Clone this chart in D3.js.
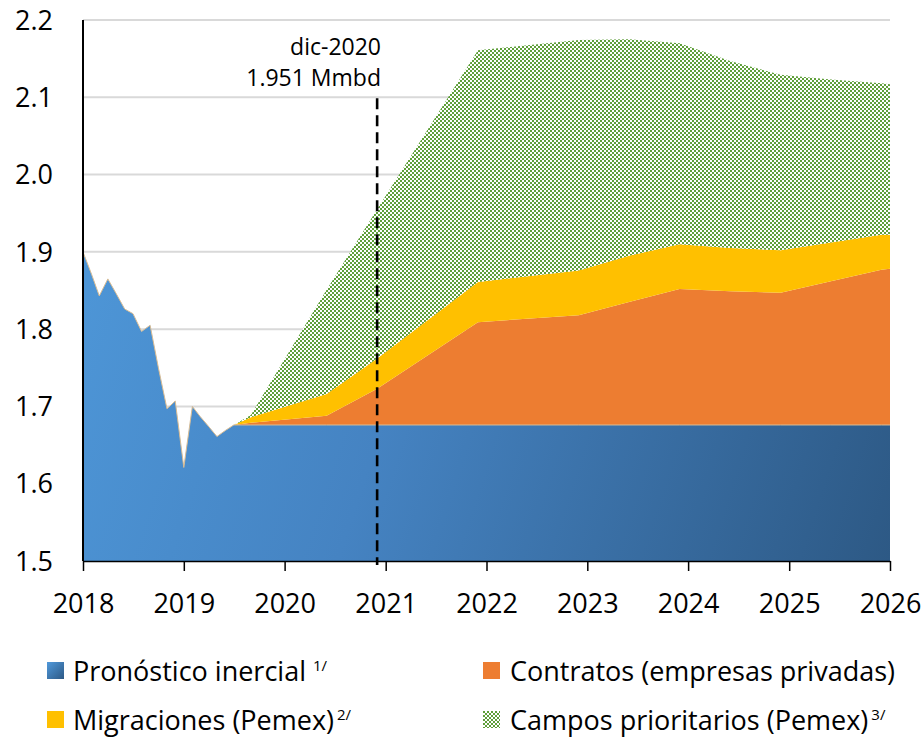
<!DOCTYPE html>
<html>
<head>
<meta charset="utf-8">
<script src="https://cdn.jsdelivr.net/npm/d3@7"></script>
<style>
  body { margin: 0; background: #fff; }
  svg text { font-family: "Open Sans", sans-serif; fill: #000; }
</style>
</head>
<body>
<div class="chart"></div>
<script>
var width = 923, height = 738;

// pronóstico inercial, mensual ene-2018 a jun-2019
var early_months = ["2018-01","2018-02","2018-03","2018-04","2018-05","2018-06","2018-07","2018-08","2018-09",
  "2018-10","2018-11","2018-12","2019-01","2019-02","2019-03","2019-04","2019-05","2019-06"];
var early_inercial = [1.900, 1.871, 1.843, 1.865, 1.846, 1.826, 1.820, 1.797, 1.805,
  1.750, 1.697, 1.707, 1.621, 1.700, 1.687, 1.674, 1.661, 1.669];

// componentes apilados desde jul-2019
var months = ["2019-07","2019-09","2020-06","2020-12","2021-12","2022-12","2023-06","2023-12",
  "2024-06","2024-12","2025-06","2025-12","2026-01"];
var inercial    = [1.676, 1.676, 1.676, 1.676, 1.676, 1.676, 1.676, 1.676, 1.676, 1.676, 1.676, 1.676, 1.676];
var contratos   = [0.000, 0.003, 0.012, 0.047, 0.133, 0.142, 0.159, 0.176, 0.173, 0.171, 0.186, 0.201, 0.202];
var migraciones = [0.000, 0.007, 0.028, 0.039, 0.052, 0.058, 0.060, 0.058, 0.056, 0.055, 0.050, 0.045, 0.044];
var prioritarios= [0.000, 0.003, 0.135, 0.193, 0.300, 0.298, 0.280, 0.260, 0.242, 0.227, 0.211, 0.196, 0.195];

var y_ticks = [1.5, 1.6, 1.7, 1.8, 1.9, 2.0, 2.1, 2.2];
var x_ticks = ["2018","2019","2020","2021","2022","2023","2024","2025","2026"];
var marker_month = "2020-12";
var marker_text = ["dic-2020", "1.951 Mmbd"];

var legend_items = [
  {key: "inercial", label: "Pronóstico inercial", sup: "1/", gap: " "},
  {key: "contratos", label: "Contratos (empresas privadas)", sup: "", gap: ""},
  {key: "migraciones", label: "Migraciones (Pemex)", sup: "2/", gap: ""},
  {key: "prioritarios", label: "Campos prioritarios (Pemex)", sup: "3/", gap: ""}
];

var parseMonth = d3.timeParse("%Y-%m"),
    parseYear = d3.timeParse("%Y");

var plot = {left: 83, right: 890, top: 20, bottom: 561};

var x = d3.scaleTime()
    .domain([parseYear("2018"), parseYear("2026")])
    .range([plot.left, plot.right]);

var y = d3.scaleLinear()
    .domain([1.5, 2.2])
    .range([plot.bottom, plot.top]);

var svg = d3.select(".chart").append("svg")
    .attr("width", width)
    .attr("height", height);

var defs = svg.append("defs");

var grad = defs.append("linearGradient")
    .attr("id", "blue-grad")
    .attr("gradientUnits", "userSpaceOnUse")
    .attr("x1", plot.left).attr("y1", 300)
    .attr("x2", plot.right).attr("y2", 560);
grad.append("stop").attr("offset", "0%").attr("stop-color", "#4d95d6");
grad.append("stop").attr("offset", "38%").attr("stop-color", "#4583c2");
grad.append("stop").attr("offset", "100%").attr("stop-color", "#2d5985");

var legGrad = defs.append("linearGradient")
    .attr("id", "blue-grad-leg")
    .attr("x1", "0").attr("y1", "0").attr("x2", "1").attr("y2", "1");
legGrad.append("stop").attr("offset", "0%").attr("stop-color", "#5099db");
legGrad.append("stop").attr("offset", "100%").attr("stop-color", "#2d5985");

var pat = defs.append("pattern")
    .attr("id", "checker")
    .attr("patternUnits", "userSpaceOnUse")
    .attr("width", 4).attr("height", 4);
pat.append("rect").attr("width", 4).attr("height", 4).attr("fill", "#fff");
pat.append("rect").attr("x", 0).attr("y", 0).attr("width", 2).attr("height", 2).attr("fill", "#5f9f3a");
pat.append("rect").attr("x", 2).attr("y", 2).attr("width", 2).attr("height", 2).attr("fill", "#5f9f3a");

// gridlines
svg.append("g").selectAll("line")
    .data(y_ticks.filter(function(d){ return d > 1.5; }))
  .enter().append("line")
    .attr("x1", plot.left).attr("x2", plot.right)
    .attr("y1", function(d){ return y(d); })
    .attr("y2", function(d){ return y(d); })
    .attr("stroke", "#d9d9d9")
    .attr("stroke-width", 2);

// stacked data
var rows = months.map(function(m, i){
  return {date: parseMonth(m), inercial: inercial[i], contratos: contratos[i],
    migraciones: migraciones[i], prioritarios: prioritarios[i]};
});

var stack = d3.stack().keys(["inercial", "contratos", "migraciones", "prioritarios"]);
var layers = stack(rows);

var band = d3.area()
    .x(function(d){ return x(d.data.date); })
    .y0(function(d){ return y(d[0]); })
    .y1(function(d){ return y(d[1]); });

var fills = {contratos: "#ed7d31", migraciones: "#ffc000", prioritarios: "url(#checker)"};

layers.slice(1).forEach(function(layer){
  svg.append("path")
      .datum(layer)
      .attr("class", "band " + layer.key)
      .attr("d", band)
      .attr("fill", fills[layer.key]);
});

// blue area: early monthly values plus the flat part
var blue = early_months.map(function(m, i){ return {date: parseMonth(m), v: early_inercial[i]}; })
  .concat(rows.map(function(r){ return {date: r.date, v: r.inercial}; }));

var blueArea = d3.area()
    .x(function(d){ return x(d.date); })
    .y0(plot.bottom)
    .y1(function(d){ return y(d.v); });

svg.append("path")
    .datum(blue)
    .attr("d", blueArea)
    .attr("fill", "url(#blue-grad)");

svg.append("path")
    .datum(blue)
    .attr("d", d3.line().x(function(d){ return x(d.date); }).y(function(d){ return y(d.v); }))
    .attr("fill", "none")
    .attr("stroke", "#d8bc94")
    .attr("stroke-width", 1);

// axes
svg.append("line")
    .attr("x1", plot.left).attr("x2", plot.left)
    .attr("y1", plot.top).attr("y2", plot.bottom)
    .attr("stroke", "#000").attr("stroke-width", 2);

var xAxis = d3.axisBottom(x)
    .tickValues(x_ticks.map(parseYear))
    .tickFormat(d3.timeFormat("%Y"))
    .tickSize(10)
    .tickSizeOuter(0);

var gx = svg.append("g")
    .attr("transform", "translate(0," + plot.bottom + ")")
    .call(xAxis);
gx.select(".domain").attr("stroke", "#000").attr("stroke-width", 1.5);
gx.selectAll(".tick line").attr("stroke", "#000").attr("stroke-width", 1.5);
gx.selectAll(".tick text")
    .attr("y", 0).attr("dy", 0)
    .attr("transform", "translate(0,52)")
    .style("font-family", "Open Sans")
    .style("font-size", "27px");

svg.append("g").selectAll("text")
    .data(y_ticks)
  .enter().append("text")
    .attr("x", 53)
    .attr("y", function(d){ return y(d); })
    .attr("dy", "0.36em")
    .style("text-anchor", "end")
    .style("font-size", "27px")
    .text(function(d){ return d3.format(".1f")(d); });

// dic-2020 marker
var mx = x(parseMonth(marker_month));
svg.append("line")
    .attr("x1", mx).attr("x2", mx)
    .attr("y1", y(2.1) + 1).attr("y2", plot.bottom + 4)
    .attr("stroke", "#000")
    .attr("stroke-width", 2.6)
    .attr("stroke-dasharray", "11,6");

svg.selectAll(".marker-label")
    .data(marker_text)
  .enter().append("text")
    .attr("class", "marker-label")
    .attr("x", 381)
    .attr("y", function(d, i){ return 55 + i * 31; })
    .style("text-anchor", "end")
    .style("font-size", "23px")
    .text(function(d){ return d; });

// legend
var legFill = {inercial: "url(#blue-grad-leg)", contratos: "#ed7d31", migraciones: "#ffc000", prioritarios: "url(#checker)"};
var leg = svg.append("g").selectAll("g")
    .data(legend_items)
  .enter().append("g")
    .attr("transform", function(d, i){
      return "translate(" + (i % 2 ? 483 : 47) + "," + (i < 2 ? 662 : 711) + ")";
    });

leg.append("rect")
    .attr("width", 17).attr("height", 17)
    .attr("fill", function(d){ return legFill[d.key]; });

var lt = leg.append("text")
    .attr("x", function(d, i){ return i % 2 ? 27 : 26; })
    .attr("y", 18.5)
    .style("font-size", "27px");
lt.append("tspan").text(function(d){ return d.label + d.gap; });
lt.append("tspan")
    .attr("dx", function(d){ return d.gap ? 0 : 3; })
    .attr("dy", -10)
    .style("font-size", "15px")
    .text(function(d){ return d.sup; });
</script>
</body>
</html>
